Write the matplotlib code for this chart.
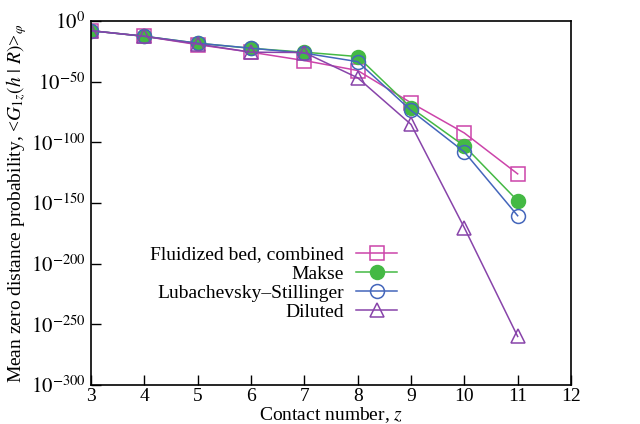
import math
import matplotlib
matplotlib.use("Agg")
import matplotlib.pyplot as plt
from matplotlib.ticker import FixedLocator, FuncFormatter, NullLocator

# ── data (log10 of probability) ───────────────────────────────────────────────
z = [3, 4, 5, 6, 7, 8, 9, 10, 11]
fluidized_exp = [-8.0, -12.6, -19.5, -25.7, -32.6, -40.8, -67.4, -92.3, -126.0]
makse_exp = [-8.0, -12.6, -18.3, -22.5, -25.7, -29.3, -71.5, -103.0, -148.2]
ls_exp = [-8.0, -12.6, -18.3, -22.4, -26.5, -33.5, -73.7, -107.9, -160.5]
diluted_exp = [-8.0, -12.6, -19.0, -25.7, -26.0, -46.8, -85.2, -170.4, -260.0]

labels = ["Fluidized bed, combined", "Makse", "Lubachevsky\u2013Stillinger", "Diluted"]
colors = ["#cc44aa", "#44b944", "#4466bb", "#8844aa"]
markers = ["s", "o", "o", "^"]
fills = ["none", "#44b944", "none", "none"]

yticks_exp = [0, -50, -100, -150, -200, -250, -300]

plt.rcParams["font.family"] = ["Liberation Serif", "DejaVu Serif"]
plt.rcParams["mathtext.fontset"] = "stix"

fig = plt.figure(figsize=(6.4, 4.24), dpi=100)
ax = fig.add_axes([91 / 640, 1 - 385 / 424, 480 / 640, 364 / 424])

series = [fluidized_exp, makse_exp, ls_exp, diluted_exp]
for exps, lab, col, mk, fc in zip(series, labels, colors, markers, fills):
    vals = [10.0 ** e for e in exps]
    ax.plot(z, vals, color=col, marker=mk, markerfacecolor=fc,
            markeredgecolor=col, markersize=10, markeredgewidth=1.1,
            linewidth=1.1, label=lab)

ax.set_yscale("log")
ax.set_ylim(1e-300, 1e0)
ax.set_xlim(3, 12)
ax.yaxis.set_major_locator(FixedLocator([10.0 ** e for e in yticks_exp]))
ax.yaxis.set_minor_locator(NullLocator())
ax.yaxis.set_major_formatter(FuncFormatter(
    lambda v, p: r"$10^{%d}$" % round(math.log10(v))))
ax.set_xticks(range(3, 13))

ax.tick_params(direction="in", length=7, width=1, labelsize=14,
               top=False, right=False)
ax.tick_params(axis="y", labelsize=15, pad=4)
ax.tick_params(axis="x", pad=2)
for sp in ax.spines.values():
    sp.set_linewidth(1.2)

ax.set_xlabel("Contact number, $z$", fontsize=14, labelpad=0)
ax.set_ylabel(r"Mean zero distance probability, <$G_{1z}(h\ |\ R)$>$_{\varphi}$",
              fontsize=14, labelpad=1)

ax.legend(loc="upper right", bbox_to_anchor=(0.6375, 0.382), frameon=False,
          markerfirst=False, fontsize=14, handlelength=2.1,
          labelspacing=0.08, borderaxespad=0, borderpad=0, handletextpad=0.65)

fig.savefig("out.png", dpi=100)
